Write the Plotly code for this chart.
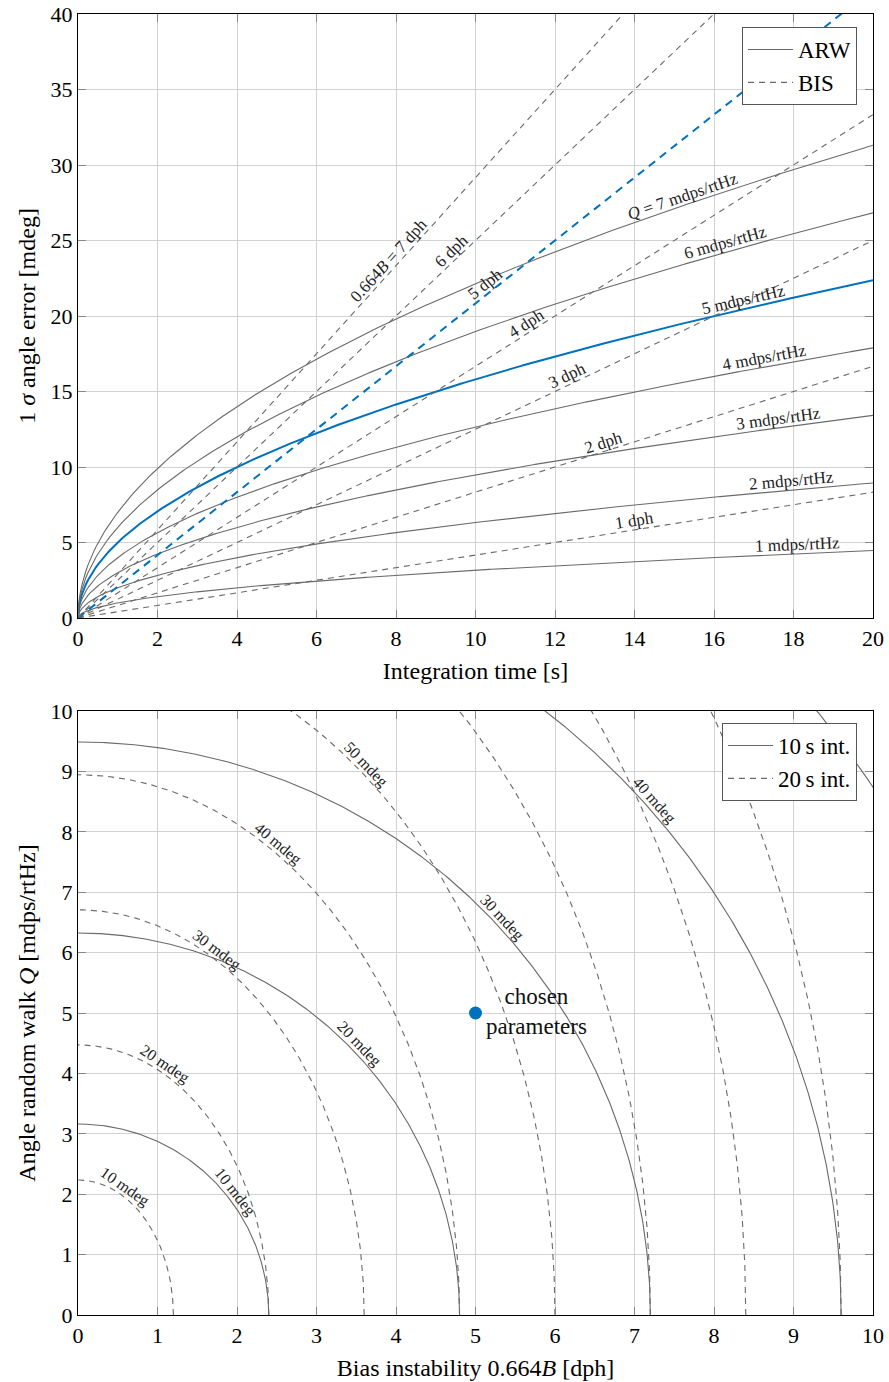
import numpy as np
import plotly.graph_objects as go

# ---------------- data ----------------
ARW_Q = [1, 2, 3, 4, 5, 6, 7]                 # mdps/rtHz
BIS_B = [1, 2, 3, 4, 5, 6, 7]                 # 0.664B in dph
BIS_SLOPE = 0.4167                            # mdeg per (dph * s): 1 dph -> 8.33 mdeg at 20 s
ARW_GAIN = 1.0                                # mdeg per (mdps/rtHz * sqrt(s)): 5 -> 22.4 at 20 s
HIGHLIGHT = 5
ARW_LABEL_T = [18.1, 17.98, 17.66, 17.3, 16.8, 16.35, 15.27]
ARW_LABELS = ["1 mdps/rtHz", "2 mdps/rtHz", "3 mdps/rtHz", "4 mdps/rtHz",
              "5 mdps/rtHz", "6 mdps/rtHz", "<i>Q</i> = 7 mdps/rtHz"]
BIS_LABEL_T = [14.04, 13.3, 12.4, 11.4, 10.4, 9.56, 7.98]
BIS_LABELS = ["1 dph", "2 dph", "3 dph", "4 dph", "5 dph", "6 dph", "0.664<i>B</i> = 7 dph"]

INT_TIMES = [10, 20]                           # s
LEVELS_10 = [10, 20, 30, 40, 50]               # mdeg contours, 10 s
LEVELS_20 = [10, 20, 30, 40, 50, 60, 70, 80]   # mdeg contours, 20 s
LABEL_B_10 = {10: 1.89, 20: 3.46, 30: 5.26, 40: 7.16}
LABEL_B_20 = {10: 0.53, 20: 1.03, 30: 1.68, 40: 2.45, 50: 3.55}
CHOSEN_B, CHOSEN_Q = 5, 5

T_MAX = 20
TOP_X_TICKS = list(range(0, 21, 2))
TOP_Y_TICKS = list(range(0, 41, 5))
BOT_TICKS = list(range(0, 11))

# ---------------- styles ----------------
GRAY = "#6a6a6a"
BLUE = "#0072BD"
FONT = "Liberation Serif"
W_PX, H_PX = 795.0, 604.0
ML, MR, MT, MB = 78, 16, 14, 67
TOTAL_H = 1382 - MT - MB
GAP = 93
D_BOT = H_PX / TOTAL_H
D_TOP = (H_PX + GAP) / TOTAL_H

fig = go.Figure()

t = np.concatenate([np.linspace(0, 0.05, 30), np.linspace(0.05, T_MAX, 400)])

for q in ARW_Q:
    hl = q == HIGHLIGHT
    fig.add_trace(go.Scatter(x=t, y=ARW_GAIN * q * np.sqrt(t), mode="lines",
                             line=dict(color=BLUE if hl else GRAY, width=2 if hl else 1.1),
                             showlegend=False, hoverinfo="skip", xaxis="x", yaxis="y"))
for b in BIS_B:
    hl = b == HIGHLIGHT
    tt = np.array([0, T_MAX])
    fig.add_trace(go.Scatter(x=tt, y=BIS_SLOPE * b * tt, mode="lines",
                             line=dict(color=BLUE if hl else GRAY, width=2 if hl else 1.1,
                                       dash="8px,6px" if hl else "6px,5px"),
                             showlegend=False, hoverinfo="skip", xaxis="x", yaxis="y"))

# legend entries top
fig.add_trace(go.Scatter(x=[None], y=[None], mode="lines", name="ARW",
                         line=dict(color=GRAY, width=1.1), legend="legend", xaxis="x", yaxis="y"))
fig.add_trace(go.Scatter(x=[None], y=[None], mode="lines", name="BIS",
                         line=dict(color=GRAY, width=1.1, dash="6px,5px"), legend="legend", xaxis="x", yaxis="y"))

phi = np.linspace(0, np.pi / 2, 400)


def ellipse_axes(level, T):
    a = level / (BIS_SLOPE * T)       # B-intercept
    b = level / np.sqrt(T)            # Q-intercept
    return a, b


for T, levels in zip(INT_TIMES, [LEVELS_10, LEVELS_20]):
    for lev in levels:
        a, b = ellipse_axes(lev, T)
        fig.add_trace(go.Scatter(x=a * np.cos(phi), y=b * np.sin(phi), mode="lines",
                                 line=dict(color=GRAY, width=1.1,
                                           dash="solid" if T == 10 else "6px,5px"),
                                 showlegend=False, hoverinfo="skip", xaxis="x2", yaxis="y2"))

fig.add_trace(go.Scatter(x=[None], y=[None], mode="lines", name="10\u2009s int.",
                         line=dict(color=GRAY, width=1.1), legend="legend2", xaxis="x2", yaxis="y2"))
fig.add_trace(go.Scatter(x=[None], y=[None], mode="lines", name="20\u2009s int.",
                         line=dict(color=GRAY, width=1.1, dash="6px,5px"), legend="legend2", xaxis="x2", yaxis="y2"))

fig.add_trace(go.Scatter(x=[CHOSEN_B], y=[CHOSEN_Q], mode="markers",
                         marker=dict(color=BLUE, size=13), showlegend=False,
                         hoverinfo="skip", xaxis="x2", yaxis="y2"))

annotations = []


def add_label(x, y, tx, ty, sx, sy, text, xref, yref, d=9.0, size=17):
    px, py = tx * sx, ty * sy
    if px < 0:
        px, py = -px, -py
    th = np.arctan2(py, px)
    annotations.append(dict(x=x, y=y, xref=xref, yref=yref, text=text, showarrow=False,
                            textangle=-np.degrees(th), xanchor="center", yanchor="middle",
                            xshift=-np.sin(th) * d, yshift=np.cos(th) * d,
                            font=dict(family=FONT, size=size, color="#222")))


sx_top, sy_top = W_PX / 20, H_PX / 40
for q, tl, txt in zip(ARW_Q, ARW_LABEL_T, ARW_LABELS):
    add_label(tl, ARW_GAIN * q * np.sqrt(tl), 1.0, ARW_GAIN * q / (2 * np.sqrt(tl)),
              sx_top, sy_top, txt, "x", "y")
for b, tl, txt in zip(BIS_B, BIS_LABEL_T, BIS_LABELS):
    add_label(tl, BIS_SLOPE * b * tl, 1.0, BIS_SLOPE * b, sx_top, sy_top, txt, "x", "y")

sx_b, sy_b = W_PX / 10, H_PX / 10
for T, labs in zip(INT_TIMES, [LABEL_B_10, LABEL_B_20]):
    for lev, bpos in labs.items():
        a, b = ellipse_axes(lev, T)
        ph = np.arccos(bpos / a)
        add_label(a * np.cos(ph), b * np.sin(ph), a * np.sin(ph), -b * np.cos(ph),
                  sx_b, sy_b, f"{lev} mdeg", "x2", "y2", d=8.5, size=16)

annotations.append(dict(x=CHOSEN_B, y=CHOSEN_Q, xref="x2", yref="y2",
                        text="chosen<br>parameters", showarrow=False, align="center",
                        xanchor="left", yanchor="middle", xshift=8, yshift=1,
                        font=dict(family=FONT, size=23, color="#111")))

axis_common = dict(showline=True, linecolor="black", linewidth=1.2, mirror="ticks",
                   ticks="inside", ticklen=8, tickcolor="#888", tickwidth=1,
                   showgrid=True, gridcolor="#d2d2d2", gridwidth=1, zeroline=False,
                   automargin=False,
                   tickfont=dict(family=FONT, size=22, color="black"))
TITLE_FONT = dict(family=FONT, size=24, color="black")

fig.update_layout(
    width=889, height=1382,
    margin=dict(l=ML, r=MR, t=MT, b=MB),
    plot_bgcolor="white", paper_bgcolor="white",
    font=dict(family=FONT, color="black"),
    xaxis=dict(domain=[0, 1], anchor="y", range=[0, 20], tickvals=TOP_X_TICKS,
               title=dict(text="Integration time [s]", font=TITLE_FONT, standoff=12),
               **axis_common),
    yaxis=dict(domain=[D_TOP, 1], anchor="x", range=[0, 40], tickvals=TOP_Y_TICKS,
               title=dict(text="1 <i>σ</i> angle error [mdeg]", font=TITLE_FONT, standoff=8),
               **axis_common),
    xaxis2=dict(domain=[0, 1], anchor="y2", range=[0, 10], tickvals=BOT_TICKS,
                title=dict(text="Bias instability 0.664<i>B</i> [dph]", font=TITLE_FONT, standoff=12),
                **axis_common),
    yaxis2=dict(domain=[0, D_BOT], anchor="x2", range=[0, 10], tickvals=BOT_TICKS,
                title=dict(text="Angle random walk <i>Q</i> [mdps/rtHz]", font=TITLE_FONT, standoff=8),
                **axis_common),
    legend=dict(x=(857 - ML) / W_PX, xanchor="right", y=(1382 - MB - 27) / TOTAL_H, yanchor="top",
                bgcolor="white", bordercolor="#555", borderwidth=1, itemwidth=45,
                font=dict(family=FONT, size=23, color="black")),
    legend2=dict(x=(857 - ML) / W_PX, xanchor="right", y=(1382 - MB - 723) / TOTAL_H, yanchor="top",
                 bgcolor="white", bordercolor="#555", borderwidth=1, itemwidth=45,
                 font=dict(family=FONT, size=23, color="black")),
    annotations=annotations,
    showlegend=True,
)

fig.write_html("out.html")
